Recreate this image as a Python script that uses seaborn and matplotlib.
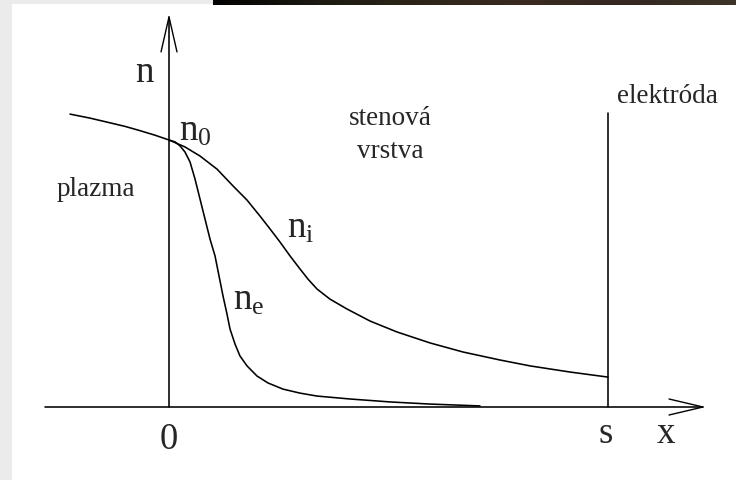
import numpy as np
import pandas as pd
import matplotlib
matplotlib.use("Agg")
import matplotlib.pyplot as plt
from matplotlib.patches import Rectangle
from matplotlib.colors import LinearSegmentedColormap
import seaborn as sns

# Density profiles near a wall (x in units where the electrode sits at s = 10,
# n normalised so that n0 = 1 at the sheath edge x = 0)
ion_x = [-2.255, -1.800, -1.412, -1.002, -0.661, -0.319, 0.0, 0.364, 0.706, 1.093,
         1.458, 1.777, 2.073, 2.301, 2.528, 2.756, 2.984, 3.166, 3.371, 3.667,
         4.055, 4.579, 5.194, 5.945, 6.697, 7.540, 8.223, 9.134, 10.0]
ion_n = [1.097, 1.082, 1.067, 1.051, 1.035, 1.018, 1.0, 0.974, 0.940, 0.891,
         0.828, 0.775, 0.715, 0.667, 0.618, 0.566, 0.517, 0.479, 0.442, 0.404,
         0.367, 0.322, 0.281, 0.240, 0.206, 0.176, 0.154, 0.131, 0.112]

electron_x = [0.0, 0.137, 0.251, 0.364, 0.478, 0.592, 0.706, 0.820, 0.934, 1.048,
              1.139, 1.230, 1.321, 1.390, 1.503, 1.617, 1.777, 2.005, 2.255, 2.597,
              2.984, 3.371, 4.123, 5.034, 5.945, 7.084]
electron_n = [1.0, 0.993, 0.978, 0.955, 0.918, 0.854, 0.779, 0.704, 0.629, 0.566,
              0.491, 0.416, 0.348, 0.292, 0.236, 0.191, 0.154, 0.116, 0.090, 0.067,
              0.052, 0.041, 0.030, 0.019, 0.011, 0.004]

electrode_x = 10.0
electrode_top = 1.101

ions = pd.DataFrame({"x": ion_x, "n": ion_n})
electrons = pd.DataFrame({"x": electron_x, "n": electron_n})

sns.set_theme(style="white")
plt.rcParams["font.family"] = ["Liberation Serif", "DejaVu Serif"]
plt.rcParams["mathtext.fontset"] = "custom"
plt.rcParams["mathtext.rm"] = "Liberation Serif"
plt.rcParams["mathtext.it"] = "Liberation Serif"

fig = plt.figure(figsize=(7.36, 4.81), dpi=100)
fig.patch.set_facecolor("white")

# light frame strips on the left and top-left
fig.patches.append(Rectangle((0, 0), 12 / 736, 1, transform=fig.transFigure,
                             facecolor="#ebebeb", edgecolor="none", zorder=0))
fig.patches.append(Rectangle((0, 1 - 5 / 481), 213 / 736, 5 / 481, transform=fig.transFigure,
                             facecolor="#ebebeb", edgecolor="none", zorder=0))

ax = fig.add_axes([0, 0, 1, 1])
ax.set_xlim(-3.850, 12.916)
ax.set_ylim(-0.2734, 1.5281)
ax.axis("off")

lw = 1.15
sns.lineplot(data=ions, x="x", y="n", ax=ax, color="black", lw=lw, legend=False)
sns.lineplot(data=electrons, x="x", y="n", ax=ax, color="black", lw=lw, legend=False)

# coordinate axes with open arrow heads
ax.plot([-2.825, 12.164], [0, 0], color="black", lw=lw)
ax.plot([11.39, 12.164, 11.39], [0.030, 0, -0.030], color="black", lw=1.0)
ax.plot([0, 0], [0, 1.461], color="black", lw=lw)
ax.plot([-0.182, 0, 0.182], [1.330, 1.461, 1.330], color="black", lw=1.0)

# electrode
ax.plot([electrode_x, electrode_x], [0, electrode_top], color="black", lw=lw)

big = 26.5
small = 19.5
ax.text(-0.57, 1.221, "n", fontsize=big, ha="center", va="baseline")
ax.text(0.228, 1.0, r"$\mathrm{n}_0$", fontsize=big, ha="left", va="baseline")
ax.text(2.688, 0.640, r"$\mathrm{n}_\mathrm{i}$", fontsize=big, ha="left", va="baseline")
ax.text(1.458, 0.367, r"$\mathrm{n}_\mathrm{e}$", fontsize=big, ha="left", va="baseline")
ax.text(-2.551, 0.794, "plazma", fontsize=small, ha="left", va="baseline")
ax.text(5.034, 1.060, "stenová", fontsize=small, ha="center", va="baseline")
ax.text(5.034, 0.936, "vrstva", fontsize=small, ha="center", va="baseline")
ax.text(10.205, 1.142, "elektróda", fontsize=small, ha="left", va="baseline")
ax.text(0.0, -0.1536, "0", fontsize=big, ha="center", va="baseline")
ax.text(9.954, -0.131, "s", fontsize=big, ha="center", va="baseline")
ax.text(11.32, -0.131, "x", fontsize=big, ha="center", va="baseline")

# dark strip along the top edge
bar = fig.add_axes([213 / 736, 1 - 6 / 481, 1 - 213 / 736, 6 / 481])
bar.axis("off")
cmap = LinearSegmentedColormap.from_list(
    "edge", ["#030201", "#1c1a12", "#2e2519", "#3a2a20", "#342820", "#3d3529"])
bar.imshow(np.linspace(0, 1, 256)[None, :], aspect="auto", cmap=cmap,
           extent=[0, 1, 0, 1])

fig.savefig("out.png", dpi=100)
